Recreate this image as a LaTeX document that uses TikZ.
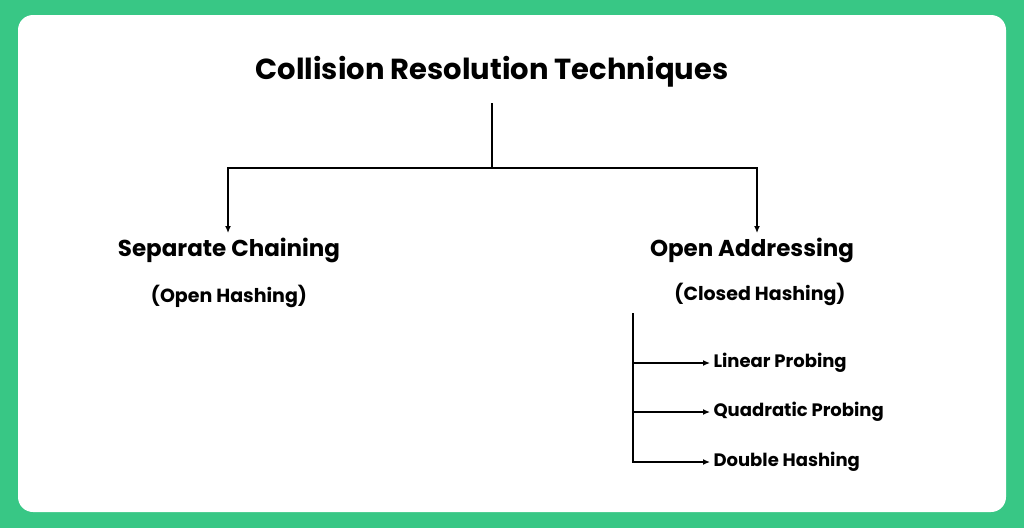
\documentclass[tikz,border=0pt]{standalone}
\usepackage{fontspec}
\setmainfont{Poppins}
\usetikzlibrary{arrows.meta}
\definecolor{bg}{HTML}{38C785}
\begin{document}
\begin{tikzpicture}[x=1pt,y=-1pt,
  ln/.style={line width=1.3pt,black},
  ar/.style={ln,-{Latex[length=7pt,width=6pt]}},
  t1/.style={font=\fontsize{29}{32}\selectfont\bfseries},
  t2/.style={font=\fontsize{23}{26}\selectfont\bfseries},
  t3/.style={font=\fontsize{19}{22}\selectfont\bfseries},
  t4/.style={font=\fontsize{18}{21}\selectfont\bfseries,anchor=west}]
\fill[bg] (0,0) rectangle (1024,528);
\fill[white,rounded corners=15pt] (18,15) rectangle (1006,512);
\node[t1] (title) at (492,72) {Collision Resolution Techniques};
\node[t2] (sc) at (229,250) {Separate Chaining};
\node[t3] (oh) at (229,296) {(Open Hashing)};
\node[t2] (oa) at (752,250) {Open Addressing};
\node[t3] (ch) at (760,294) {(Closed Hashing)};
\coordinate (top) at (492,103);
\coordinate (j) at (492,168);
\draw[ln] (top) -- (j);
\draw[ar] (j) -| (228,233);
\draw[ar] (j) -| (757,233);
\coordinate (v1) at (633,313);
\coordinate (v2) at (633,463);
\draw[ln] (v1) -- (v2);
\node[t4] (lp) at (710,363) {Linear Probing};
\node[t4] (qp) at (710,412) {Quadratic Probing};
\node[t4] (dh) at (710,462) {Double Hashing};
\draw[ar] (633,363) -- (lp.west);
\draw[ar] (633,412) -- (qp.west);
\draw[ar] (633,462) -- (dh.west);
\end{tikzpicture}
\end{document}
